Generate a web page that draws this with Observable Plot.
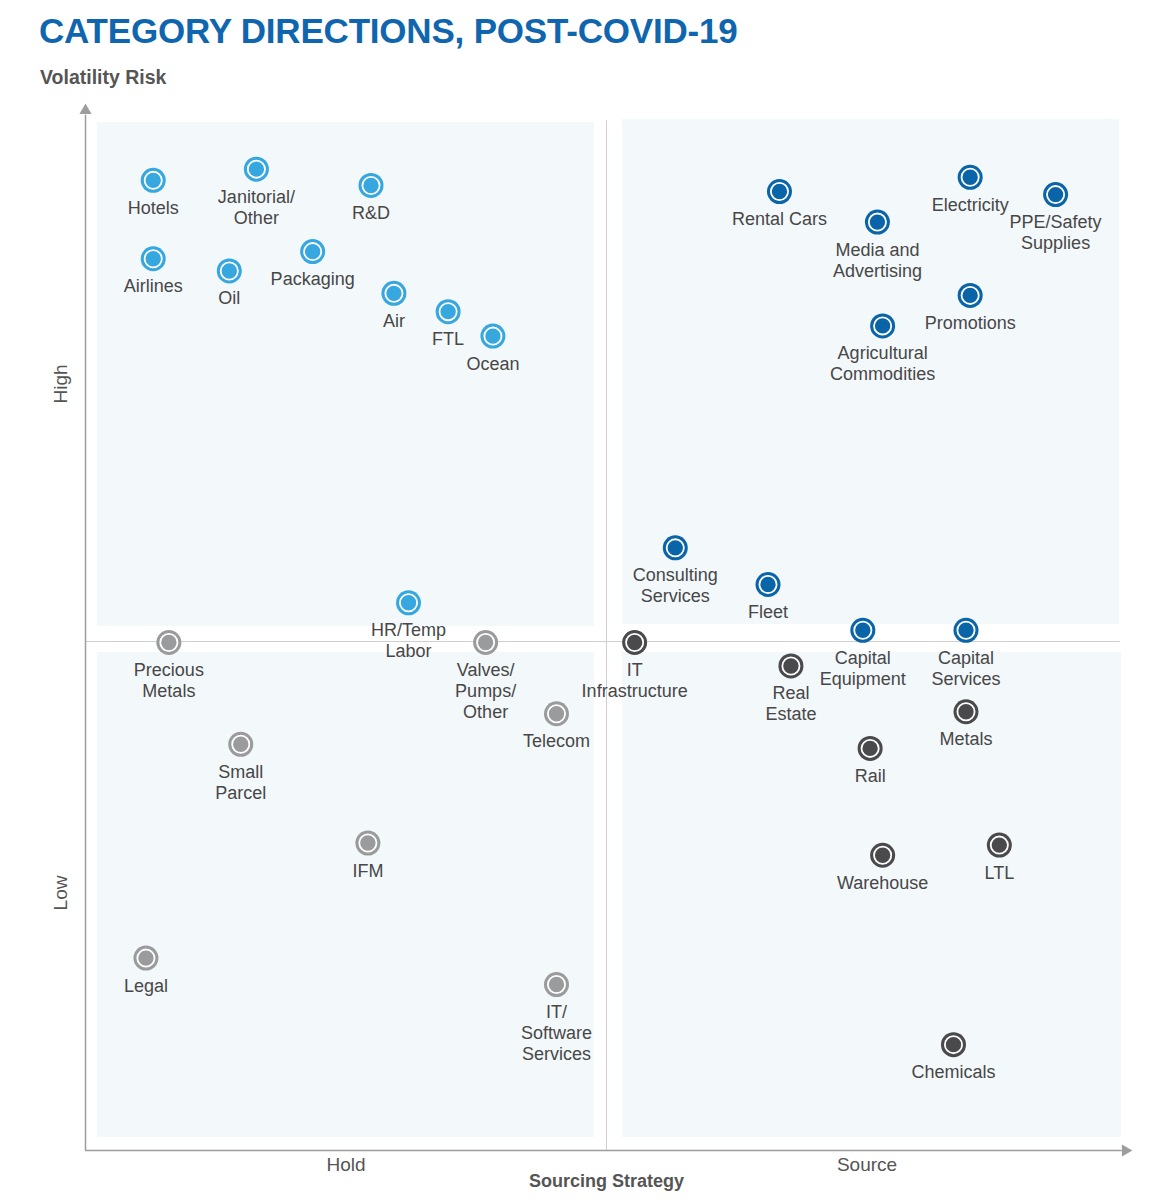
<!DOCTYPE html>
<html><head><meta charset="utf-8">
<script src="https://cdn.jsdelivr.net/npm/d3@7"></script>
<script src="https://cdn.jsdelivr.net/npm/@observablehq/plot@0.6"></script>
<style>
body{margin:0;background:#fff;font-family:"Liberation Sans",Arial,Helvetica,sans-serif;}
#wrap{position:relative;width:1154px;height:1200px;overflow:hidden;}
#title{position:absolute;left:39px;top:13px;font-size:35px;line-height:1;font-weight:bold;color:#1066ae;letter-spacing:-0.2px;white-space:nowrap;}
#sub{position:absolute;left:40px;top:68px;font-size:19.5px;line-height:1;font-weight:bold;color:#555;white-space:nowrap;}
#chart{position:absolute;left:0;top:95px;}
</style>
</head><body>
<div id="wrap">
  <div id="title">CATEGORY DIRECTIONS, POST-COVID-19</div>
  <div id="sub">Volatility Risk</div>
  <div id="chart"></div>
</div>
<script>
// Categories and their positions (Sourcing Strategy 0–10: Hold → Source; Volatility Risk 0–10: Low → High)
const categories = [
  "Hotels","Janitorial/\nOther","R&D","Airlines","Oil","Packaging","Air","FTL","Ocean","HR/Temp\nLabor",
  "Rental Cars","Media and\nAdvertising","Electricity","PPE/Safety\nSupplies","Promotions","Agricultural\nCommodities","Consulting\nServices","Fleet","Capital\nEquipment","Capital\nServices",
  "Precious\nMetals","Valves/\nPumps/\nOther","Telecom","Small\nParcel","IFM","Legal","IT/\nSoftware\nServices",
  "IT\nInfrastructure","Real\nEstate","Metals","Rail","Warehouse","LTL","Chemicals"
];
const sourcingStrategy = [
  0.65,1.64,2.74,0.65,1.38,2.18,2.96,3.48,3.91,3.10,
  6.66,7.60,8.49,9.31,8.49,7.65,5.66,6.55,7.46,8.45,
  0.80,3.84,4.52,1.49,2.71,0.58,4.52,
  5.27,6.77,8.45,7.53,7.65,8.77,8.33
];
const volatilityRisk = [
  9.53,9.64,9.48,8.76,8.64,8.83,8.42,8.24,8.00,5.38,
  9.42,9.12,9.56,9.39,8.40,8.10,5.92,5.56,5.11,5.11,
  4.99,4.99,4.29,3.99,3.02,1.89,1.63,
  4.99,4.76,4.31,3.95,2.90,3.00,1.04
];
const quadrantOf = [
  "Hold/High","Hold/High","Hold/High","Hold/High","Hold/High","Hold/High","Hold/High","Hold/High","Hold/High","Hold/High",
  "Source/High","Source/High","Source/High","Source/High","Source/High","Source/High","Source/High","Source/High","Source/High","Source/High",
  "Hold/Low","Hold/Low","Hold/Low","Hold/Low","Hold/Low","Hold/Low","Hold/Low",
  "Source/Low","Source/Low","Source/Low","Source/Low","Source/Low","Source/Low","Source/Low"
];
const quadrantNames = ["Hold/High","Source/High","Hold/Low","Source/Low"];
const quadrantColors = ["#36a7df","#0a64a8","#9a9b9d","#4a4a4c"];
const xTickLabels = ["Hold","Source"];
const xTickValues = [2.5, 7.5];
const yTickLabels = ["Low","High"];
const yTickValues = [2.5, 7.5];

const points = categories.map((c, i) => ({
  name: c, x: sourcingStrategy[i], y: volatilityRisk[i], q: quadrantOf[i]
}));

// quadrant panels (in data units), insets handled in marks
const panels = [
  {x1:0, x2:5, y1:5, y2:10, it:-10, ib:15, il:12, ir:12},
  {x1:5, x2:10, y1:5, y2:10, it:-13, ib:17, il:16, ir:8},
  {x1:0, x2:5, y1:0, y2:5, it:11, ib:13, il:12, ir:12},
  {x1:5, x2:10, y1:0, y2:5, it:11, ib:13, il:16, ir:6}
];
const panelFill = "#f3f8fb";

const textColor = "#474747";
const axisColor = "#9d9d9d";

const chart = Plot.plot({
  width: 1154,
  height: 1105,
  marginTop: 37,
  marginBottom: 50,
  marginLeft: 85,
  marginRight: 27,
  x: {domain: [0, 10], axis: null},
  y: {domain: [0, 10], axis: null},
  color: {domain: quadrantNames, range: quadrantColors},
  style: {fontFamily: '"Liberation Sans", Arial, Helvetica, sans-serif', background: "transparent", overflow: "visible"},
  marks: [
    ...panels.map(p => Plot.rect([p], {x1: "x1", x2: "x2", y1: "y1", y2: "y2", fill: panelFill,
      insetTop: p.it, insetBottom: p.ib, insetLeft: p.il, insetRight: p.ir})),
    // dividers
    Plot.ruleX([5], {y1: 0, y2: 10.12, stroke: "#cfcfcf", strokeWidth: 1}),
    Plot.ruleY([5], {x1: 0, x2: 9.93, stroke: "#cfcfcf", strokeWidth: 1}),
    // axes with arrows
    Plot.ruleX([0], {y1: 0, y2: 10.17, stroke: axisColor, strokeWidth: 1.5}),
    Plot.ruleY([0], {x1: 0, x2: 9.95, stroke: axisColor, strokeWidth: 1.5}),
    Plot.dot([{x: 0, y: 10.216}], {x: "x", y: "y", symbol: "triangle", r: 4.5, fill: axisColor, stroke: null}),
    Plot.dot([{x: 9.98, y: 0}], {x: "x", y: "y", symbol: "triangle", r: 4.5, fill: axisColor, stroke: null, rotate: 90}),
    // tick labels
    Plot.text(xTickLabels, {x: (d, i) => xTickValues[i], frameAnchor: "bottom", lineAnchor: "middle", dy: 14,
      text: d => d, fontSize: 19, fill: "#555"}),
    Plot.text(yTickLabels, {y: (d, i) => yTickValues[i], frameAnchor: "left", textAnchor: "middle",
      lineAnchor: "middle", dx: -25, dy: -3, text: d => d, rotate: -90, fontSize: 19, fill: "#555"}),
    Plot.text(["Sourcing Strategy"], {x: 5, frameAnchor: "bottom", lineAnchor: "middle", dy: 31, text: d => d,
      fontSize: 18, fontWeight: "bold", fill: "#555"}),
    // markers
    Plot.dot(points, {x: "x", y: "y", r: 12.5, fill: "q", stroke: null}),
    Plot.dot(points, {x: "x", y: "y", r: 8.6, fill: "q", stroke: "white", strokeWidth: 1.8}),
    // labels
    Plot.text(points, {x: "x", y: "y", text: "name", lineAnchor: "top", dy: 18.5, fontSize: 18,
      lineHeight: 1.17, fill: textColor})
  ]
});
document.getElementById("chart").appendChild(chart);
</script>
</body></html>
